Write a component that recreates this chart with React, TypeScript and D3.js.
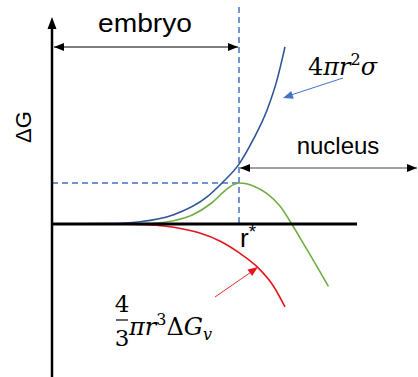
import * as d3 from "d3";

// Curves (r normalised so r* = 1, dG normalised so the peak = 1)
const blueR = [0, 0.3, 0.471, 0.647, 0.829, 0.909, 1.0, 1.075, 1.15, 1.203, 1.246];
const blueG = [0, 0.01, 0.056, 0.22, 0.66, 1.0, 1.46, 2.05, 2.78, 3.51, 4.32];

const greenR = [0, 0.4, 0.55, 0.65, 0.75, 0.85, 0.93, 0.97, 1.0, 1.04, 1.08, 1.15, 1.22, 1.282, 1.35, 1.415, 1.478];
const greenG = [0, 0, 0.02, 0.08, 0.22, 0.5, 0.83, 0.96, 1.0, 0.98, 0.92, 0.74, 0.43, 0, -0.52, -1.02, -1.52];

const redR = [0, 0.3, 0.5, 0.6, 0.7, 0.79, 0.9, 1.0, 1.096, 1.182, 1.246];
const redG = [0, 0, -0.02, -0.05, -0.12, -0.22, -0.42, -0.7, -1.04, -1.5, -2.02];

const rStar = 1;
const gStar = 1;
const axisMax = 1.631;

const W = 418;
const H = 377;

const xScale = d3.scaleLinear().domain([0, 1]).range([52, 239]);
const yScale = d3.scaleLinear().domain([0, 1]).range([224, 183]);

const line = d3
  .line<[number, number]>()
  .x((d) => xScale(d[0]))
  .y((d) => yScale(d[1]))
  .curve(d3.curveMonotoneX);

const pts = (r: number[], g: number[]) => r.map((v, i) => [v, g[i]] as [number, number]);

const sans = "'Liberation Sans', Arial, sans-serif";
const serif = "'DejaVu Serif', 'Liberation Serif', serif";

const Head = ({ x, y, angle, fill }: { x: number; y: number; angle: number; fill: string }) => (
  <path d="M0,0 L-10,-4 L-10,4 Z" fill={fill} transform={`translate(${x},${y}) rotate(${angle})`} />
);

export default function App() {
  const x0 = xScale(0);
  const y0 = yScale(0);
  const xs = xScale(rStar);
  const ys = yScale(gStar);
  const blueArrow = Math.atan2(98 - 78, 283 - 343) * 180 / Math.PI;
  const redArrow = Math.atan2(267 - 297, 258 - 215) * 180 / Math.PI;
  return (
    <svg width={W} height={H} style={{ position: "absolute", left: 0, top: 0, background: "#fff" }}>
      {/* dashed guides */}
      <line x1={xs} x2={xs} y1={7} y2={y0} stroke="#4472C4" strokeWidth={1.5} strokeDasharray="6,4" />
      <line x1={x0} x2={xs} y1={ys} y2={ys} stroke="#4472C4" strokeWidth={1.5} strokeDasharray="6,4" />

      {/* curves */}
      <path d={line(pts(redR, redG)) ?? ""} fill="none" stroke="#E3161B" strokeWidth={1.6} />
      <path d={line(pts(greenR, greenG)) ?? ""} fill="none" stroke="#70AD47" strokeWidth={1.6} />
      <path d={line(pts(blueR, blueG)) ?? ""} fill="none" stroke="#2F5597" strokeWidth={1.6} />

      {/* axes */}
      <line x1={x0} x2={xScale(axisMax)} y1={y0} y2={y0} stroke="#000" strokeWidth={3} />
      <line x1={x0} x2={x0} y1={26} y2={H} stroke="#000" strokeWidth={2.5} />
      <path d={`M${x0},17 L${x0 - 4.5},29 L${x0 + 4.5},29 Z`} fill="#000" />

      {/* embryo range */}
      <line x1={x0 + 2} x2={xs - 1} y1={47} y2={47} stroke="#000" strokeWidth={1} />
      <Head x={x0 + 2} y={47} angle={180} fill="#000" />
      <Head x={xs - 1} y={47} angle={0} fill="#000" />
      <text x={145} y={32} textAnchor="middle" fontFamily={sans} fontSize={25} textLength={94} lengthAdjust="spacingAndGlyphs">embryo</text>

      {/* nucleus range */}
      <line x1={xs + 1} x2={417} y1={168} y2={168} stroke="#444" strokeWidth={1} />
      <Head x={xs + 1} y={168} angle={180} fill="#000" />
      <Head x={417} y={168} angle={0} fill="#000" />
      <text x={338} y={154} textAnchor="middle" fontFamily={sans} fontSize={24}>nucleus</text>

      {/* axis label */}
      <text transform="translate(31,127) rotate(-90)" textAnchor="middle" fontFamily={sans} fontSize={22}>ΔG</text>
      <text x={240} y={247} fontFamily={sans} fontSize={26}>r<tspan dy={-9} fontSize={19}>*</tspan></text>

      {/* surface term label */}
      <line x1={343} y1={78} x2={288} y2={96} stroke="#4472C4" strokeWidth={1} />
      <Head x={283} y={98} angle={blueArrow} fill="#4472C4" />
      <text x={308} y={75} fontFamily={serif} fontSize={24}>
        4<tspan fontStyle="italic">πr</tspan>
        <tspan dy={-10} fontSize={16}>2</tspan>
        <tspan dy={10} fontStyle="italic">σ</tspan>
      </text>

      {/* volume term label */}
      <line x1={215} y1={297} x2={254} y2={270} stroke="#E0302B" strokeWidth={1} />
      <Head x={258} y={267} angle={redArrow} fill="#E3161B" />
      <text x={122} y={312} textAnchor="middle" fontFamily={serif} fontSize={23}>4</text>
      <line x1={116} x2={128} y1={320} y2={320} stroke="#000" strokeWidth={1.2} />
      <text x={122} y={346} textAnchor="middle" fontFamily={serif} fontSize={23}>3</text>
      <text x={129} y={335} fontFamily={serif} fontSize={24}>
        <tspan fontStyle="italic">πr</tspan>
        <tspan dy={-10} fontSize={16}>3</tspan>
        <tspan dy={10}>Δ</tspan>
        <tspan fontStyle="italic">G</tspan>
        <tspan dy={5} fontSize={16} fontStyle="italic">v</tspan>
      </text>
    </svg>
  );
}
